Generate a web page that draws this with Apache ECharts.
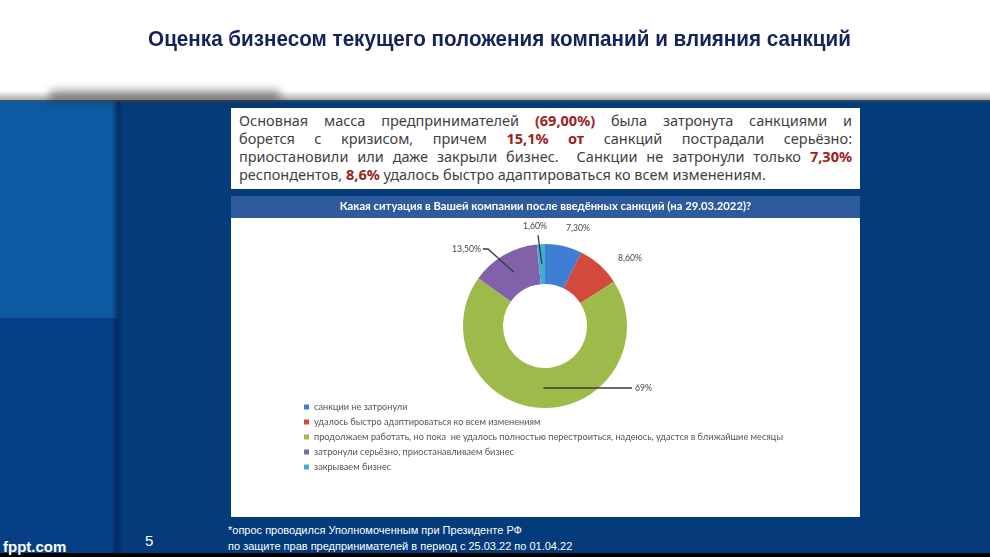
<!DOCTYPE html>
<html>
<head>
<meta charset="utf-8">
<script src="https://cdn.jsdelivr.net/npm/echarts@6/dist/echarts.min.js"></script>
<style>
  body { margin: 0; width: 990px; height: 557px; overflow: hidden; background: #fff; position: relative; font-family: "Liberation Sans", Arial, sans-serif; }
  .abs { position: absolute; }
  #title { left: 0; top: 27px; width: 999px; text-align: center; font-weight: bold; font-size: 21.5px; color: #16225a; transform: scaleX(0.96); }
  #shadow { left: 0; top: 91px; width: 990px; height: 11px; background: linear-gradient(to bottom, rgba(255,255,255,0), rgba(80,80,80,0.6)); }
  #shadowDark { left: 50px; top: 90px; width: 230px; height: 12px; background: rgba(40,40,40,0.45); filter: blur(4px); }
  #band { left: 0; top: 100px; width: 990px; height: 453px; background: #033b7b; }
  #colTop { left: 0; top: 100px; width: 118px; height: 218px; background: #0b5aa2; }
  #colBottom { left: 0; top: 318px; width: 118px; height: 235px; background: #063f86; }
  #colEdge { left: 112px; top: 100px; width: 10px; height: 453px; background: linear-gradient(to right, rgba(0,20,60,0), rgba(0,20,60,0.5), rgba(0,20,60,0)); }
  #black { left: 0; top: 553px; width: 990px; height: 4px; background: #000; }
  #textBox { left: 231px; top: 108px; width: 613px; height: 78px; padding: 3px 8px 0 8px; background: #fff; box-sizing: content-box;
             font-family: "Noto Sans", sans-serif; font-size: 14.5px; line-height: 18px; color: #3f3f3f; }
  #textBox span.line { display: block; text-align: justify; text-align-last: justify; white-space: nowrap; }
  #textBox span.last { text-align-last: left; }
  #textBox b { color: #9a2222; }
  #chart { left: 231px; top: 196px; width: 629px; height: 321px; background: #fff; }
  #note { left: 228px; top: 522px; color: #fff; font-size: 11px; line-height: 16px; }
  #page { left: 145px; top: 532px; color: #fff; font-size: 15px; }
  #brand { left: 3px; top: 538px; color: #fff; font-size: 15px; font-weight: bold; }
</style>
</head>
<body>
<div id="title" class="abs">Оценка бизнесом текущего положения компаний и влияния санкций</div>
<div id="band" class="abs"></div>
<div id="colTop" class="abs"></div>
<div id="colBottom" class="abs"></div>
<div id="colEdge" class="abs"></div>
<div id="shadow" class="abs"></div>
<div id="shadowDark" class="abs"></div>
<div id="black" class="abs"></div>
<div id="textBox" class="abs">
  <span class="line">Основная масса предпринимателей <b>(69,00%)</b> была затронута санкциями и</span>
  <span class="line">борется с кризисом, причем <b>15,1% от</b> санкций пострадали серьёзно:</span>
  <span class="line">приостановили или даже закрыли бизнес.&nbsp; Санкции не затронули только <b>7,30%</b></span>
  <span class="line last">респондентов, <b>8,6%</b> удалось быстро адаптироваться ко всем изменениям.</span>
</div>
<div id="chart" class="abs"></div>
<div id="note" class="abs">*опрос проводился Уполномоченным при Президенте РФ<br>по защите прав предпринимателей в период с 25.03.22 по 01.04.22</div>
<div id="page" class="abs">5</div>
<div id="brand" class="abs">fppt.com</div>

<script>
// данные опроса
var categories = [
  'санкции не затронули',
  'удалось быстро адаптироваться ко всем изменениям',
  'продолжаем работать, но пока  не удалось полностью перестроиться, надеюсь, удастся в ближайшие месяцы',
  'затронули серьёзно, приостанавливаем бизнес',
  'закрываем бизнес'
];
var shares = [7.3, 8.6, 69, 13.5, 1.6];
var shareLabels = ['7,30%', '8,60%', '69%', '13,50%', '1,60%'];
var colors = ['#3f7fd3', '#d24a3e', '#9cbb4b', '#8162aa', '#40b0d2'];

var CX = 314, CY = 130, R_IN = 42, R_OUT = 82;
var RING = (R_IN + R_OUT) / 2;

// средние углы секторов (по часовой от верха)
var total = shares.reduce(function (s, v) { return s + v; }, 0);
var midAngles = [];
var acc = 0;
shares.forEach(function (v) {
  midAngles.push((acc + v / 2) / total * 360);
  acc += v;
});

function ringPoint(i) {
  var a = midAngles[i] * Math.PI / 180;
  return [CX + RING * Math.sin(a), CY - RING * Math.cos(a)];
}

// выноски как в Excel: от середины кольца к подписи
var leaderLines = [
  [ringPoint(2), [CX + 87, ringPoint(2)[1]]],
  [ringPoint(3), [CX - 57, CY - 77], [CX - 62, CY - 77]],
  [ringPoint(4), [CX - 7, CY - 91]]
];

function labelPlace(params) {
  var i = params.dataIndex;
  if (i === 0) return { x: CX + 33, y: CY - 98, align: 'center', verticalAlign: 'middle' };
  if (i === 1) return { x: CX + 85, y: CY - 68, align: 'center', verticalAlign: 'middle' };
  if (i === 2) return { x: CX + 90, y: ringPoint(2)[1], align: 'left', verticalAlign: 'middle' };
  if (i === 3) return { x: CX - 64, y: CY - 77, align: 'right', verticalAlign: 'middle' };
  return { x: CX - 10, y: CY - 100, align: 'center', verticalAlign: 'middle' };
}

var graphics = [{
  type: 'rect',
  left: 0, top: 0,
  shape: { width: 629, height: 22 },
  style: { fill: '#2e5a9e' }
}];
leaderLines.forEach(function (pts) {
  graphics.push({
    type: 'polyline',
    z: 10,
    shape: { points: pts },
    style: { stroke: '#3a3a3a', lineWidth: 1.3, fill: null }
  });
});

var option = {
  animation: false,
  color: colors,
  graphic: graphics,
  title: {
    text: 'Какая ситуация в Вашей компании после введённых санкций (на 29.03.2022)?',
    left: 'center',
    top: 5,
    padding: 0,
    textStyle: { color: '#fff', fontSize: 11.3, fontWeight: 'bold', fontFamily: 'Lato' }
  },
  legend: {
    orient: 'vertical',
    left: 73,
    top: 206,
    icon: 'rect',
    itemWidth: 5,
    itemHeight: 5,
    itemGap: 5,
    padding: 0,
    selectedMode: false,
    data: categories,
    textStyle: { color: '#555', fontSize: 9.2, fontFamily: 'Lato', lineHeight: 10 }
  },
  series: [{
    type: 'pie',
    center: [CX, CY],
    radius: [R_IN, R_OUT],
    startAngle: 90,
    clockwise: true,
    avoidLabelOverlap: false,
    emphasis: { disabled: true },
    label: {
      show: true,
      position: 'outside',
      formatter: function (p) { return shareLabels[p.dataIndex]; },
      color: '#444',
      fontSize: 8.7,
      fontFamily: 'Lato'
    },
    labelLine: { show: false },
    labelLayout: labelPlace,
    data: shares.map(function (v, i) { return { name: categories[i], value: v }; })
  }]
};

var chart = echarts.init(document.getElementById('chart'));
chart.setOption(option);
</script>
</body>
</html>
